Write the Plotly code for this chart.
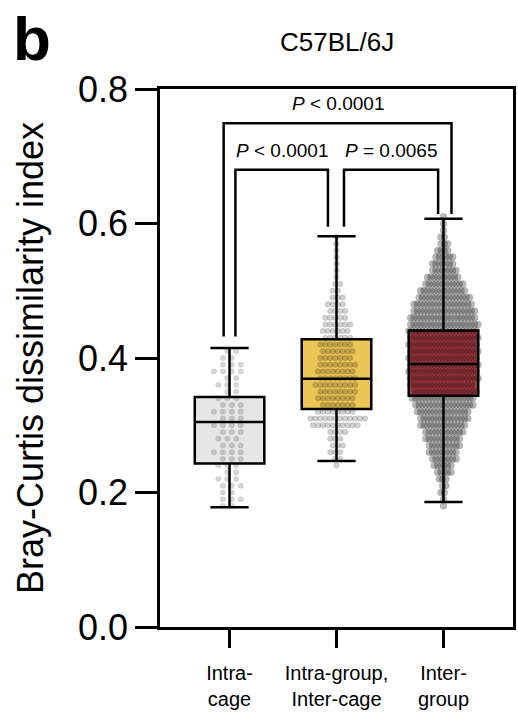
import plotly.graph_objects as go

# ---------------- data ----------------
categories = ["Intra-<br>cage", "Intra-group,<br>Inter-cage", "Inter-<br>group"]
positions = [0, 1, 2]

q1 = [0.243, 0.324, 0.344]
median = [0.305, 0.369, 0.391]
q3 = [0.342, 0.428, 0.441]
lower_whisker = [0.178, 0.247, 0.186]
upper_whisker = [0.415, 0.581, 0.607]

# individual dissimilarity values, read as (level, number of points at that level)
intra_cage_levels = [0.18, 0.19, 0.20, 0.21, 0.22, 0.23, 0.24, 0.25, 0.26, 0.27, 0.28, 0.29,
                     0.30, 0.31, 0.32, 0.33, 0.34, 0.35, 0.36, 0.37, 0.38, 0.39, 0.40, 0.41]
intra_cage_counts = [2, 3, 2, 3, 3, 2, 3, 3, 4, 3, 3, 3, 4, 3, 4, 3, 3, 2, 3, 2, 4, 3, 2, 2]

intra_group_levels = [0.24, 0.25, 0.26, 0.27, 0.28, 0.29, 0.30, 0.31, 0.32, 0.33, 0.34, 0.35,
                      0.36, 0.37, 0.38, 0.39, 0.40, 0.41, 0.42, 0.43, 0.44, 0.45, 0.46, 0.47,
                      0.48, 0.49, 0.50, 0.51, 0.52, 0.53, 0.54, 0.55, 0.56, 0.57, 0.58]
intra_group_counts = [1, 2, 3, 3, 3, 4, 10, 12, 8, 7, 8, 8, 9, 8, 8, 8, 7, 7, 7, 6, 6, 6, 5, 4,
                      4, 3, 2, 2, 1, 1, 1, 1, 1, 1, 1]

inter_group_levels = [0.18, 0.19, 0.20, 0.21, 0.22, 0.23, 0.24, 0.25, 0.26, 0.27, 0.28, 0.29,
                      0.30, 0.31, 0.32, 0.33, 0.34, 0.35, 0.36, 0.37, 0.38, 0.39, 0.40, 0.41,
                      0.42, 0.43, 0.44, 0.45, 0.46, 0.47, 0.48, 0.49, 0.50, 0.51, 0.52, 0.53,
                      0.54, 0.55, 0.56, 0.57, 0.58, 0.59, 0.60, 0.61]
inter_group_counts = [1, 1, 2, 2, 3, 5, 6, 8, 9, 10, 11, 12, 14, 15, 16, 18, 19, 20, 20, 21,
                      21, 21, 21, 21, 21, 21, 21, 21, 20, 19, 18, 16, 14, 12, 10, 8, 7, 6, 4,
                      3, 2, 1, 1, 1]

p_labels = ["<i>P</i> < 0.0001", "<i>P</i> < 0.0001", "<i>P</i> = 0.0065"]

# ---------------- style ----------------
FONT = "Liberation Sans, Arial, Helvetica, sans-serif"
box_fills = ["#e6e6e6", "#ebc555", "#e2505c"]
point_colors = ["rgba(0,0,0,0.16)", "rgba(0,0,0,0.18)", "rgba(0,0,0,0.28)"]
point_lines = ["rgba(0,0,0,0.08)", "rgba(0,0,0,0.14)", "rgba(0,0,0,0.1)"]
point_sizes = [5.5, 5.5, 7]
spacing_px = [9.0, 5.0, 3.4]

X_RANGE = [-0.65, 2.65]
M_L, M_R, M_T, M_B = 160, 2, 89, 91
W, H = 518, 718
PLOT_W = W - M_L - M_R
PLOT_H = H - M_T - M_B
PX_PER_UNIT = PLOT_W / (X_RANGE[1] - X_RANGE[0])
LW = 2.5


def swarm(center, levels, counts, sp):
    xs, ys = [], []
    for r, (lv, n) in enumerate(zip(levels, counts)):
        stag = (0.25 if r % 2 else -0.25) * sp if n > 1 else 0.0
        for i in range(n):
            off_px = (i - (n - 1) / 2) * sp + stag
            xs.append(center + off_px / PX_PER_UNIT)
            ys.append(lv)
    return xs, ys


fig = go.Figure()

# filled boxes (bottom layer)
for i in range(3):
    fig.add_trace(go.Box(
        x=[positions[i]], q1=[q1[i]], median=[median[i]], q3=[q3[i]],
        lowerfence=[lower_whisker[i]], upperfence=[upper_whisker[i]],
        width=0.65, fillcolor=box_fills[i], line=dict(color=box_fills[i], width=0),
        boxpoints=False, showlegend=False, hoverinfo="skip",
    ))

# points
series = [(intra_cage_levels, intra_cage_counts),
          (intra_group_levels, intra_group_counts),
          (inter_group_levels, inter_group_counts)]
for i, (lv, ct) in enumerate(series):
    xs, ys = swarm(positions[i], lv, ct, spacing_px[i])
    fig.add_trace(go.Scatter(
        x=xs, y=ys, mode="markers",
        marker=dict(size=point_sizes[i], color=point_colors[i],
                    line=dict(width=0.7, color=point_lines[i])),
        showlegend=False, hoverinfo="skip",
    ))

# box outlines on an overlaid axis so they sit above the points
for i in range(3):
    fig.add_trace(go.Box(
        x=[positions[i]], q1=[q1[i]], median=[median[i]], q3=[q3[i]],
        lowerfence=[lower_whisker[i]], upperfence=[upper_whisker[i]],
        width=0.65, fillcolor="rgba(0,0,0,0)", line=dict(color="black", width=LW),
        whiskerwidth=0.55, boxpoints=False, showlegend=False, hoverinfo="skip",
        yaxis="y2",
    ))

# significance brackets
legs = [0.432, 0.595, 0.614]
brackets = [  # (x left, x right, y top, left group, right group, label index)
    (-0.055, 2.075, 0.749, 0, 2, 0),
    (0.055, 0.92, 0.680, 0, 1, 1),
    (1.07, 1.95, 0.680, 1, 2, 2),
]
label_y = [0.778, 0.708, 0.708]
for xl, xr, yt, gl, gr, li in brackets:
    fig.add_shape(type="path",
                  path=f"M {xl},{legs[gl]} L {xl},{yt} L {xr},{yt} L {xr},{legs[gr]}",
                  xref="x", yref="y", line=dict(color="black", width=LW), layer="above")
    fig.add_annotation(x=(xl + xr) / 2, y=label_y[li], xref="x", yref="y",
                       text=p_labels[li], showarrow=False,
                       font=dict(family=FONT, size=19, color="black"))

# titles / labels
fig.add_annotation(x=0.5, y=1 + (M_T - 42) / PLOT_H, xref="paper", yref="paper",
                   text="C57BL/6J", showarrow=False, yanchor="middle",
                   font=dict(family=FONT, size=26, color="black"))
fig.add_annotation(x=(10 - M_L) / PLOT_W, y=1 + (M_T - 4) / PLOT_H,
                   xref="paper", yref="paper", xanchor="left", yanchor="top",
                   height=64, valign="middle",
                   text="<b>b</b>", showarrow=False,
                   font=dict(family=FONT, size=62, color="black"))
fig.add_annotation(x=(29 - M_L) / PLOT_W, y=0.5, xref="paper", yref="paper",
                   text="Bray-Curtis dissimilarity index", textangle=-90, showarrow=False,
                   xanchor="center", yanchor="middle",
                   font=dict(family=FONT, size=36, color="black"))

fig.update_layout(
    width=W, height=H,
    margin=dict(l=M_L, r=M_R, t=M_T, b=M_B),
    paper_bgcolor="white", plot_bgcolor="white",
    boxmode="overlay",
    font=dict(family=FONT, color="black"),
    xaxis=dict(range=X_RANGE, tickvals=positions, ticktext=categories,
               ticks="outside", ticklen=18, tickwidth=LW, tickcolor="black",
               showline=True, linewidth=LW, linecolor="black", mirror=True,
               showgrid=False, zeroline=False, tickfont=dict(family=FONT, size=20),
               ticklabelstandoff=8),
    yaxis=dict(range=[0, 0.8], tickvals=[0, 0.2, 0.4, 0.6, 0.8],
               ticktext=["0.0", "0.2", "0.4", "0.6", "0.8"],
               ticks="outside", ticklen=22, tickwidth=LW, tickcolor="black",
               showline=True, linewidth=LW, linecolor="black", mirror=True,
               showgrid=False, zeroline=False, tickfont=dict(family=FONT, size=36)),
    yaxis2=dict(range=[0, 0.8], overlaying="y", visible=False),
)

fig.write_html("out.html")
